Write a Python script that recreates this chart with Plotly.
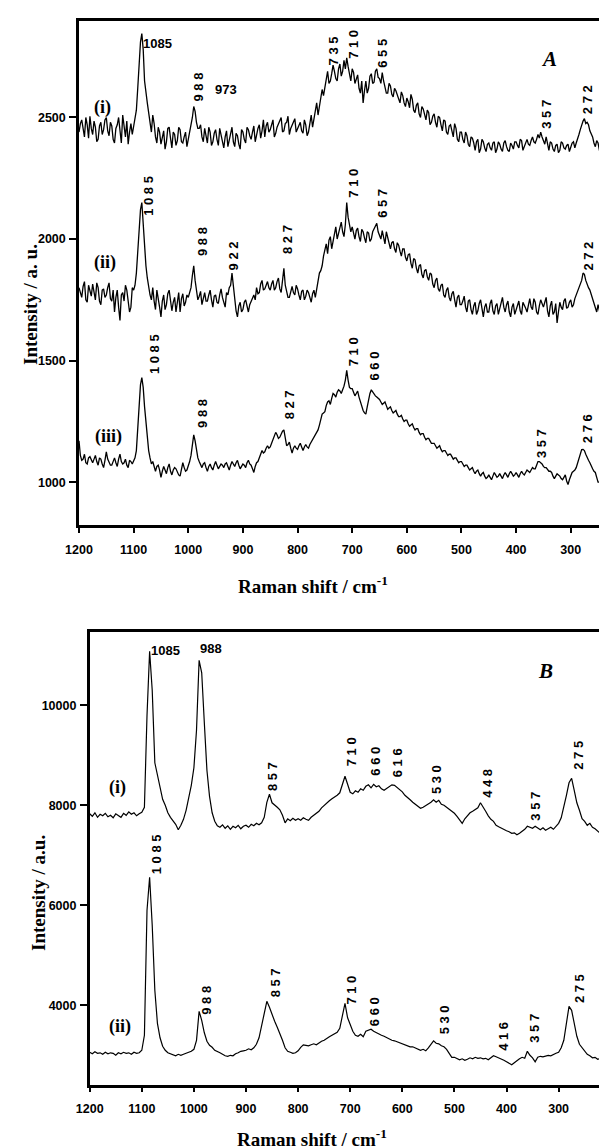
import plotly.graph_objects as go

# ---------------- data ----------------
# Panel A: Raman shift sampling 1200 -> 215 cm-1 (step 5) plus intermediate readings (1197.5 -> 217.5)
wavenumber_A = list(range(1200, 214, -5))
wavenumber_A_mid = [w - 2.5 for w in wavenumber_A[:-1]]
# Panel B: Raman shift sampling 1200 -> 200 cm-1 (step 5)
wavenumber_B = list(range(1200, 199, -5))

A_i = [
    2440, 2490, 2420, 2470, 2505, 2430, 2460, 2410, 2480, 2450,
    2500, 2425, 2465, 2395, 2470, 2440, 2510, 2420, 2390, 2475,
    2460, 2530, 2740, 2845, 2650, 2560, 2470, 2510, 2420, 2460,
    2390, 2445, 2400, 2460, 2375, 2430, 2405, 2450, 2395, 2440,
    2410, 2470, 2545, 2480, 2455, 2420, 2455, 2395, 2440, 2400,
    2450, 2385, 2430, 2375, 2445, 2405, 2460, 2380, 2425, 2370,
    2440, 2395, 2450, 2410, 2465, 2430, 2470, 2445, 2420, 2480,
    2450, 2490, 2435, 2475, 2500, 2445, 2480, 2430, 2470, 2495,
    2455, 2480, 2435, 2470, 2440, 2510, 2500, 2560, 2540, 2615,
    2630, 2690, 2650, 2715, 2660, 2700, 2670, 2735, 2745, 2680,
    2700, 2640, 2675, 2600, 2560, 2650, 2620, 2680, 2645, 2700,
    2660, 2685, 2620, 2600, 2630, 2585, 2610, 2570, 2605, 2560,
    2580, 2540, 2575, 2520, 2560, 2500, 2535, 2490, 2520, 2480,
    2515, 2460, 2500, 2445, 2485, 2430, 2470, 2420, 2455, 2400,
    2440, 2395, 2425, 2380, 2415, 2365, 2410, 2370, 2400, 2360,
    2395, 2365, 2400, 2370, 2390, 2360, 2405, 2365, 2395, 2370,
    2400, 2375, 2405, 2380, 2410, 2385, 2420, 2395, 2430, 2440,
    2405, 2420, 2365, 2395, 2360, 2390, 2365, 2395, 2370, 2390,
    2375, 2400, 2395, 2430, 2470, 2495, 2480, 2445, 2420, 2380,
    2395, 2345, 2360, 2320, 2335, 2300, 2310, 2285,
]
A_i_mid = [
    2475, 2445, 2500, 2415, 2455, 2485, 2400, 2465, 2430, 2490,
    2445, 2480, 2410, 2455, 2500, 2395, 2460, 2485, 2440, 2430,
    2490, 2620, 2810, 2780, 2590, 2520, 2440, 2475, 2395, 2440,
    2425, 2370, 2455, 2415, 2440, 2385, 2460, 2400, 2420, 2380,
    2435, 2500, 2525, 2455, 2470, 2400, 2430, 2460, 2385, 2435,
    2410, 2455, 2395, 2420, 2380, 2440, 2400, 2435, 2390, 2450,
    2410, 2460, 2425, 2440, 2400, 2455, 2415, 2490, 2465, 2440,
    2475, 2420, 2460, 2490, 2440, 2475, 2505, 2455, 2480, 2440,
    2470, 2445, 2490, 2425, 2475, 2460, 2530, 2510, 2580, 2590,
    2660, 2640, 2680, 2690, 2650, 2720, 2690, 2700, 2710, 2650,
    2685, 2660, 2620, 2650, 2610, 2600, 2670, 2640, 2690, 2665,
    2640, 2650, 2600, 2640, 2595, 2620, 2590, 2560, 2590, 2545,
    2565, 2595, 2530, 2550, 2515, 2545, 2505, 2530, 2470, 2505,
    2480, 2505, 2470, 2490, 2440, 2465, 2445, 2475, 2410, 2440,
    2410, 2440, 2390, 2420, 2395, 2400, 2355, 2410, 2375, 2390,
    2375, 2395, 2355, 2400, 2370, 2395, 2380, 2360, 2385, 2400,
    2385, 2410, 2365, 2395, 2390, 2405, 2400, 2410, 2415, 2420,
    2390, 2385, 2400, 2370, 2385, 2355, 2400, 2375, 2385, 2360,
    2395, 2375, 2410, 2450, 2485, 2475, 2470, 2430, 2395, 2405,
    2365, 2355, 2340, 2345, 2315, 2320, 2300,
]

A_ii = [
    1800, 1760, 1825, 1740, 1790, 1815, 1750, 1800, 1730, 1795,
    1770, 1820, 1745, 1700, 1790, 1665, 1780, 1810, 1750, 1720,
    1790, 1860, 2060, 2150, 1950, 1840, 1770, 1800, 1710, 1760,
    1680, 1770, 1730, 1790, 1705, 1760, 1735, 1700, 1775, 1740,
    1760, 1800, 1890, 1790, 1765, 1730, 1780, 1745, 1790, 1720,
    1770, 1735, 1795, 1740, 1780, 1800, 1860, 1750, 1680, 1740,
    1710, 1750, 1700, 1745, 1770, 1800, 1780, 1830, 1795, 1825,
    1790, 1830, 1800, 1840, 1780, 1880, 1790, 1760, 1805, 1770,
    1795, 1750, 1790, 1765, 1780, 1740, 1790, 1800, 1860, 1890,
    1960, 1940, 2010, 1990, 2050, 2020, 2070, 2010, 2150, 2060,
    2050, 2000, 2045, 1990, 2030, 1985, 2025, 2000, 2040, 2065,
    2010, 2035, 1980, 2010, 1960, 1990, 1945, 1975, 1930, 1960,
    1910, 1940, 1880, 1915, 1860, 1895, 1840, 1875, 1830, 1855,
    1800, 1840, 1785, 1815, 1760, 1800, 1745, 1785, 1720, 1770,
    1730, 1765, 1700, 1750, 1690, 1740, 1705, 1750, 1680, 1735,
    1700, 1750, 1690, 1735, 1710, 1760, 1700, 1745, 1680, 1735,
    1710, 1745, 1690, 1730, 1700, 1755, 1710, 1740, 1690, 1750,
    1720, 1760, 1680, 1745, 1700, 1655, 1740, 1710, 1755, 1720,
    1750, 1730, 1770, 1800, 1830, 1855, 1810, 1790, 1760, 1720,
    1730, 1680, 1700, 1650, 1670, 1630, 1640, 1610,
]
A_ii_mid = [
    1775, 1805, 1750, 1810, 1765, 1780, 1820, 1745, 1790, 1760,
    1800, 1755, 1790, 1760, 1720, 1770, 1745, 1790, 1700, 1800,
    1810, 1950, 2120, 2060, 1890, 1800, 1750, 1745, 1790, 1720,
    1745, 1710, 1775, 1750, 1740, 1700, 1780, 1755, 1725, 1770,
    1780, 1850, 1830, 1750, 1785, 1760, 1745, 1770, 1750, 1765,
    1740, 1770, 1760, 1720, 1770, 1810, 1800, 1705, 1725, 1700,
    1740, 1720, 1730, 1760, 1750, 1775, 1815, 1790, 1810, 1800,
    1815, 1790, 1825, 1795, 1830, 1810, 1760, 1790, 1780, 1810,
    1770, 1785, 1750, 1790, 1760, 1775, 1760, 1830, 1870, 1930,
    1980, 1995, 1960, 2030, 2000, 2045, 2030, 2060, 2090, 2030,
    2020, 2035, 2010, 2040, 2005, 2030, 1990, 2030, 2050, 2030,
    2000, 2005, 2030, 1980, 1985, 1960, 1985, 1950, 1960, 1925,
    1935, 1900, 1920, 1880, 1890, 1855, 1870, 1845, 1860, 1815,
    1830, 1795, 1810, 1770, 1790, 1760, 1775, 1750, 1760, 1730,
    1745, 1720, 1745, 1710, 1725, 1690, 1735, 1715, 1720, 1700,
    1735, 1705, 1725, 1690, 1740, 1720, 1730, 1700, 1720, 1690,
    1730, 1705, 1740, 1715, 1730, 1720, 1755, 1700, 1725, 1735,
    1740, 1705, 1725, 1690, 1735, 1700, 1720, 1745, 1715, 1740,
    1720, 1755, 1780, 1815, 1860, 1830, 1800, 1770, 1735, 1700,
    1710, 1690, 1665, 1680, 1640, 1620, 1625,
]

A_iii = [
    1170, 1090, 1115, 1075, 1105, 1080, 1110, 1070, 1095, 1060,
    1125, 1085, 1070, 1100, 1065, 1115, 1075, 1095, 1060, 1085,
    1090, 1130, 1330, 1430, 1310, 1170, 1100, 1085, 1045, 1070,
    1020, 1065, 1035, 1075, 1030, 1060, 1040, 1025, 1080, 1045,
    1065, 1110, 1195, 1130, 1085, 1060, 1080, 1045, 1075, 1050,
    1085, 1055, 1075, 1060, 1080, 1050, 1085, 1065, 1090, 1055,
    1075, 1060, 1090, 1070, 1040, 1080, 1100, 1130, 1125, 1150,
    1145, 1175, 1205, 1180, 1200, 1215, 1150, 1165, 1120, 1150,
    1135, 1160, 1130, 1155, 1140, 1165, 1180, 1200, 1235, 1280,
    1290, 1330, 1320, 1365, 1350, 1380, 1365, 1395, 1460, 1390,
    1385, 1355, 1375, 1330, 1295, 1280, 1345, 1380, 1360, 1350,
    1340, 1320, 1330, 1300, 1310, 1285, 1295, 1270, 1275, 1250,
    1255, 1230, 1240, 1215, 1220, 1195, 1200, 1175, 1180, 1160,
    1160, 1140, 1150, 1125, 1130, 1110, 1115, 1095, 1100, 1080,
    1085, 1065, 1070, 1050, 1060, 1035, 1050, 1025, 1040, 1015,
    1030, 1010, 1040, 1020, 1035, 1015, 1040, 1020, 1045, 1025,
    1040, 1020, 1045, 1030, 1050, 1040, 1060, 1055, 1085, 1080,
    1065, 1060, 1045, 1040, 1015, 1035, 1025, 1010, 1030, 990,
    1030, 1045, 1060, 1100, 1134, 1130, 1100, 1080, 1055, 1040,
    1000, 1005, 985, 960, 970, 935, 925, 910,
]
A_iii_mid = [
    1110, 1095, 1080, 1100, 1090, 1095, 1085, 1100, 1075, 1090,
    1095, 1070, 1090, 1080, 1095, 1085, 1080, 1070, 1090, 1075,
    1100, 1220, 1400, 1390, 1240, 1130, 1075, 1060, 1065, 1050,
    1045, 1050, 1060, 1045, 1050, 1055, 1030, 1055, 1060, 1050,
    1085, 1160, 1170, 1100, 1070, 1075, 1060, 1065, 1060, 1070,
    1070, 1065, 1070, 1075, 1065, 1070, 1075, 1080, 1070, 1065,
    1070, 1080, 1075, 1055, 1065, 1085, 1115, 1120, 1140, 1140,
    1160, 1190, 1195, 1185, 1210, 1185, 1155, 1140, 1140, 1140,
    1150, 1145, 1145, 1145, 1155, 1170, 1190, 1215, 1260, 1285,
    1315, 1335, 1345, 1360, 1370, 1375, 1380, 1420, 1420, 1385,
    1370, 1365, 1350, 1310, 1285, 1310, 1365, 1370, 1355, 1345,
    1330, 1325, 1315, 1305, 1295, 1290, 1280, 1270, 1260, 1255,
    1240, 1235, 1225, 1220, 1205, 1200, 1185, 1180, 1170, 1160,
    1150, 1145, 1135, 1130, 1120, 1115, 1105, 1100, 1090, 1085,
    1075, 1070, 1060, 1055, 1045, 1045, 1035, 1035, 1025, 1020,
    1020, 1025, 1030, 1025, 1025, 1030, 1030, 1035, 1035, 1030,
    1030, 1035, 1035, 1040, 1045, 1050, 1055, 1070, 1085, 1075,
    1060, 1050, 1045, 1025, 1025, 1030, 1015, 1020, 1005, 1010,
    1040, 1050, 1080, 1120, 1135, 1115, 1090, 1065, 1045, 1020,
    1000, 995, 975, 965, 950, 930, 915,
]

B_i = [
    7830, 7780, 7850, 7760, 7820, 7790, 7840, 7770, 7800, 7750,
    7830, 7790, 7760, 7840, 7800, 7870, 7820, 7850, 7790, 7830,
    7860, 7960, 9800, 11080, 10300, 8850, 8600, 8350, 8120, 8000,
    7850, 7760, 7700, 7620, 7510, 7600, 7720, 7900, 8150, 8400,
    8750, 9500, 10900, 10650, 9650, 8700, 8180, 7850, 7680, 7590,
    7560, 7610, 7540, 7590, 7520, 7580, 7550, 7600, 7530, 7580,
    7600, 7560, 7620, 7590, 7640, 7610, 7650, 7760, 8060, 8220,
    8050, 8010, 7960, 7910, 7800, 7650, 7730, 7690, 7740, 7700,
    7730, 7700, 7750, 7720, 7700, 7760, 7800, 7840, 7880, 7950,
    8000, 8060, 8090, 8130, 8160, 8200, 8250, 8400, 8580, 8420,
    8260, 8230, 8290, 8260, 8330, 8300, 8380, 8410, 8350, 8420,
    8370, 8390, 8330, 8300, 8340, 8380, 8410, 8400, 8360, 8320,
    8270, 8200, 8160, 8110, 8060, 8020, 7980, 7940, 7960, 7990,
    8020, 8060, 8110, 8060, 8100, 8020, 8000, 7950, 7920, 7880,
    7840, 7780, 7700, 7640, 7730, 7800, 7850, 7880, 7910, 7950,
    8050, 7950, 7880, 7790, 7720, 7680, 7600, 7570, 7540, 7510,
    7490, 7470, 7440, 7450, 7410, 7440, 7480, 7520, 7580, 7560,
    7540, 7580, 7540, 7510, 7550, 7500, 7530, 7560, 7520, 7590,
    7640, 7750, 7950, 8200, 8450, 8540, 8300, 8050, 7900, 7730,
    7680, 7600, 7640, 7560, 7530, 7480, 7440, 7500, 7560, 7640,
    7600,
]

B_ii = [
    3060, 3030, 3070, 3040, 3050, 3020, 3060, 3030, 3050, 3040,
    3000, 3050, 3030, 3060, 3040, 3050, 3020, 3060, 3040, 3050,
    3100, 3400, 5900, 6560, 5600, 4300, 3640, 3350, 3180, 3100,
    3050, 3030, 3010, 2990, 3020, 3000, 3020, 3040, 3060, 3080,
    3120, 3300, 3880, 3700, 3450, 3280, 3200, 3160, 3100, 3080,
    3050, 3020, 2990, 2980, 3000, 2990, 3030, 3050, 3080, 3090,
    3100, 3130, 3110, 3150, 3220, 3350, 3580, 3850, 4080, 3960,
    3800, 3680, 3560, 3440, 3300, 3150, 3080, 3060, 3040, 3050,
    3090, 3160, 3210, 3200, 3190, 3210, 3230, 3210, 3250, 3280,
    3300, 3340, 3370, 3400, 3430, 3460, 3540, 3800, 4040, 3750,
    3600, 3480, 3400, 3380, 3420, 3370, 3480, 3500, 3520, 3480,
    3450, 3420, 3400, 3380, 3350, 3330, 3300, 3290, 3270, 3240,
    3220, 3200, 3180, 3170, 3170, 3150, 3120, 3100, 3120, 3090,
    3150, 3220, 3290, 3240, 3230, 3190, 3170, 3120, 3030, 2960,
    2960, 2930, 2910, 2930, 2900, 2920, 2950, 2930, 2960, 2940,
    2950, 2930, 2940, 2910, 2960, 2990, 2970, 2950, 2920, 2900,
    2870, 2840, 2810, 2850, 2900, 2930, 2960, 2940, 3080, 3000,
    2950, 2870, 2960, 2980, 2970, 2990, 3000, 2990, 3020, 3040,
    3060, 3150, 3300, 3640, 3980, 3900, 3620, 3380, 3220, 3150,
    3080, 3020, 2990, 2950, 2960, 2920, 2940, 2910, 2930, 2920,
    2910,
]

x_ticks = [1200, 1100, 1000, 900, 800, 700, 600, 500, 400, 300]
yA_ticks = [1000, 1500, 2000, 2500]
yB_ticks = [4000, 6000, 8000, 10000]

# peak labels: (text, wavenumber, intensity)
peaks_A_vert = [
    ("988", 982, 2556), ("735", 735, 2704), ("710", 698, 2732), ("655", 645, 2695),
    ("357", 345, 2444), ("272", 269, 2506),
    ("1085", 1072, 2087), ("988", 974, 1922), ("922", 918, 1861), ("827", 818, 1931),
    ("710", 698, 2161), ("657", 645, 2078), ("272", 268, 1861),
    ("1085", 1062, 1438), ("988", 974, 1215), ("827", 814, 1252), ("710", 697, 1470),
    ("660", 660, 1408), ("357", 353, 1092), ("276", 269, 1153),
]
peaks_A_horiz = [("1085", 1056, 2806), ("973", 931, 2615)]
peaks_B_vert = [
    ("857", 849, 8246), ("710", 697, 8746), ("660", 652, 8546), ("616", 610, 8513),
    ("530", 533, 8179), ("448", 438, 8113), ("357", 345, 7646), ("275", 261, 8679),
    ("1085", 1073, 6579), ("988", 975, 3779), ("857", 844, 4113), ("710", 697, 3979),
    ("660", 653, 3546), ("530", 519, 3379), ("416", 406, 3046), ("357", 346, 3213),
    ("275", 261, 4013),
]
peaks_B_horiz = [("1085", 1055, 11099), ("988", 968, 11133)]

series_A = [("(i)", 1157, 2539), ("(ii)", 1152, 1902), ("(iii)", 1146, 1186)]
series_B = [("(i)", 1147, 8366), ("(ii)", 1142, 3586)]


def interleave(grid, main, grid_mid, mid):
    xs, ys = [], []
    for i, (g, v) in enumerate(zip(grid, main)):
        xs.append(g)
        ys.append(v)
        if i < len(mid):
            xs.append(grid_mid[i])
            ys.append(mid[i])
    return xs, ys


# ---------------- figure ----------------
W, H = 607, 1148
SANS = "Liberation Sans, Arial, sans-serif"
SERIF = "Liberation Serif, Times New Roman, serif"

fig = go.Figure()
for main, mid in ((A_i, A_i_mid), (A_ii, A_ii_mid), (A_iii, A_iii_mid)):
    xs, ys = interleave(wavenumber_A, main, wavenumber_A_mid, mid)
    fig.add_trace(go.Scatter(x=xs, y=ys, mode="lines",
                             line=dict(color="black", width=1.3),
                             xaxis="x", yaxis="y", showlegend=False, hoverinfo="skip"))
for ys in (B_i, B_ii):
    fig.add_trace(go.Scatter(x=wavenumber_B, y=ys, mode="lines",
                             line=dict(color="black", width=1.2),
                             xaxis="x2", yaxis="y2", showlegend=False, hoverinfo="skip"))

tickfont = dict(family=SANS, size=12.5, color="black", weight="bold")
common_ax = dict(showgrid=False, zeroline=False, showline=True, linecolor="black",
                 ticks="outside", tickcolor="black", tickwidth=2, tickfont=tickfont,
                 automargin=False)

fig.update_layout(
    width=W, height=H, margin=dict(l=0, r=0, t=0, b=0, autoexpand=False),
    paper_bgcolor="white", plot_bgcolor="white", showlegend=False,
    xaxis=dict(domain=[71 / W, 1.0], range=[1200, 219], tickvals=x_ticks,
               ticklen=5, linewidth=2.5, mirror=True, anchor="y",
               ticklabelstandoff=6, **common_ax),
    yaxis=dict(domain=[1 - 517 / H, 1 - 12.7 / H], range=[824, 2898], tickvals=yA_ticks,
               ticklen=7, linewidth=2.5, mirror=False, anchor="x", tickformat="d",
               ticklabelstandoff=1, **common_ax),
    xaxis2=dict(domain=[81.7 / W, 602.7 / W], range=[1200, 200], tickvals=x_ticks,
                ticklen=5, linewidth=2.5, mirror=True, anchor="y2",
                ticklabelstandoff=6, **common_ax),
    yaxis2=dict(domain=[1 - 1076.7 / H, 1 - 624 / H], range=[2412, 11466], tickvals=yB_ticks,
                ticklen=7, linewidth=2.5, mirror=True, anchor="x2", tickformat="d",
                ticklabelstandoff=1, **common_ax),
)

ann = []
lab_font = dict(family=SANS, size=13, color="black", weight="bold")
for txt, x, y in peaks_A_vert:
    ann.append(dict(text=" ".join(txt), x=x, y=y, xref="x", yref="y", showarrow=False,
                    textangle=-90, xanchor="center", yanchor="bottom", font=lab_font))
for txt, x, y in peaks_A_horiz:
    ann.append(dict(text=txt, x=x, y=y, xref="x", yref="y", showarrow=False,
                    xanchor="center", yanchor="middle", font=lab_font))
for txt, x, y in peaks_B_vert:
    ann.append(dict(text=" ".join(txt), x=x, y=y, xref="x2", yref="y2", showarrow=False,
                    textangle=-90, xanchor="center", yanchor="bottom", font=lab_font))
for txt, x, y in peaks_B_horiz:
    ann.append(dict(text=txt, x=x, y=y, xref="x2", yref="y2", showarrow=False,
                    xanchor="center", yanchor="middle", font=lab_font))

ser_font = dict(family=SERIF, size=18, color="black", weight="bold")
for txt, x, y in series_A:
    ann.append(dict(text=txt, x=x, y=y, xref="x", yref="y", showarrow=False,
                    xanchor="center", yanchor="middle", font=ser_font))
for txt, x, y in series_B:
    ann.append(dict(text=txt, x=x, y=y, xref="x2", yref="y2", showarrow=False,
                    xanchor="center", yanchor="middle", font=ser_font))

panel_font = dict(family=SERIF, size=21, color="black", weight="bold", style="italic")
ann.append(dict(text="A", x=340, y=2741, xref="x", yref="y", showarrow=False,
                xanchor="center", yanchor="middle", font=panel_font))
ann.append(dict(text="B", x=326, y=10679, xref="x2", yref="y2", showarrow=False,
                xanchor="center", yanchor="middle", font=panel_font))

title_font = dict(family=SERIF, size=19, color="black", weight="bold")
ann.append(dict(text="Raman shift / cm<sup>-1</sup>", x=305 / W, y=1 - 577 / H,
                xref="paper", yref="paper", showarrow=False,
                xanchor="center", yanchor="middle", font=title_font))
ann.append(dict(text="Raman shift / cm<sup>-1</sup>", x=304 / W, y=1 - 1130 / H,
                xref="paper", yref="paper", showarrow=False,
                xanchor="center", yanchor="middle", font=title_font))
ann.append(dict(text="Intensity / a. u.", x=22 / W, y=1 - 297 / H, textangle=-90,
                xref="paper", yref="paper", showarrow=False,
                xanchor="center", yanchor="middle", font=title_font))
ann.append(dict(text="Intensity / a.u.", x=30 / W, y=1 - 885 / H, textangle=-90,
                xref="paper", yref="paper", showarrow=False,
                xanchor="center", yanchor="middle", font=title_font))

fig.update_layout(annotations=ann)
fig.write_html("out.html")
